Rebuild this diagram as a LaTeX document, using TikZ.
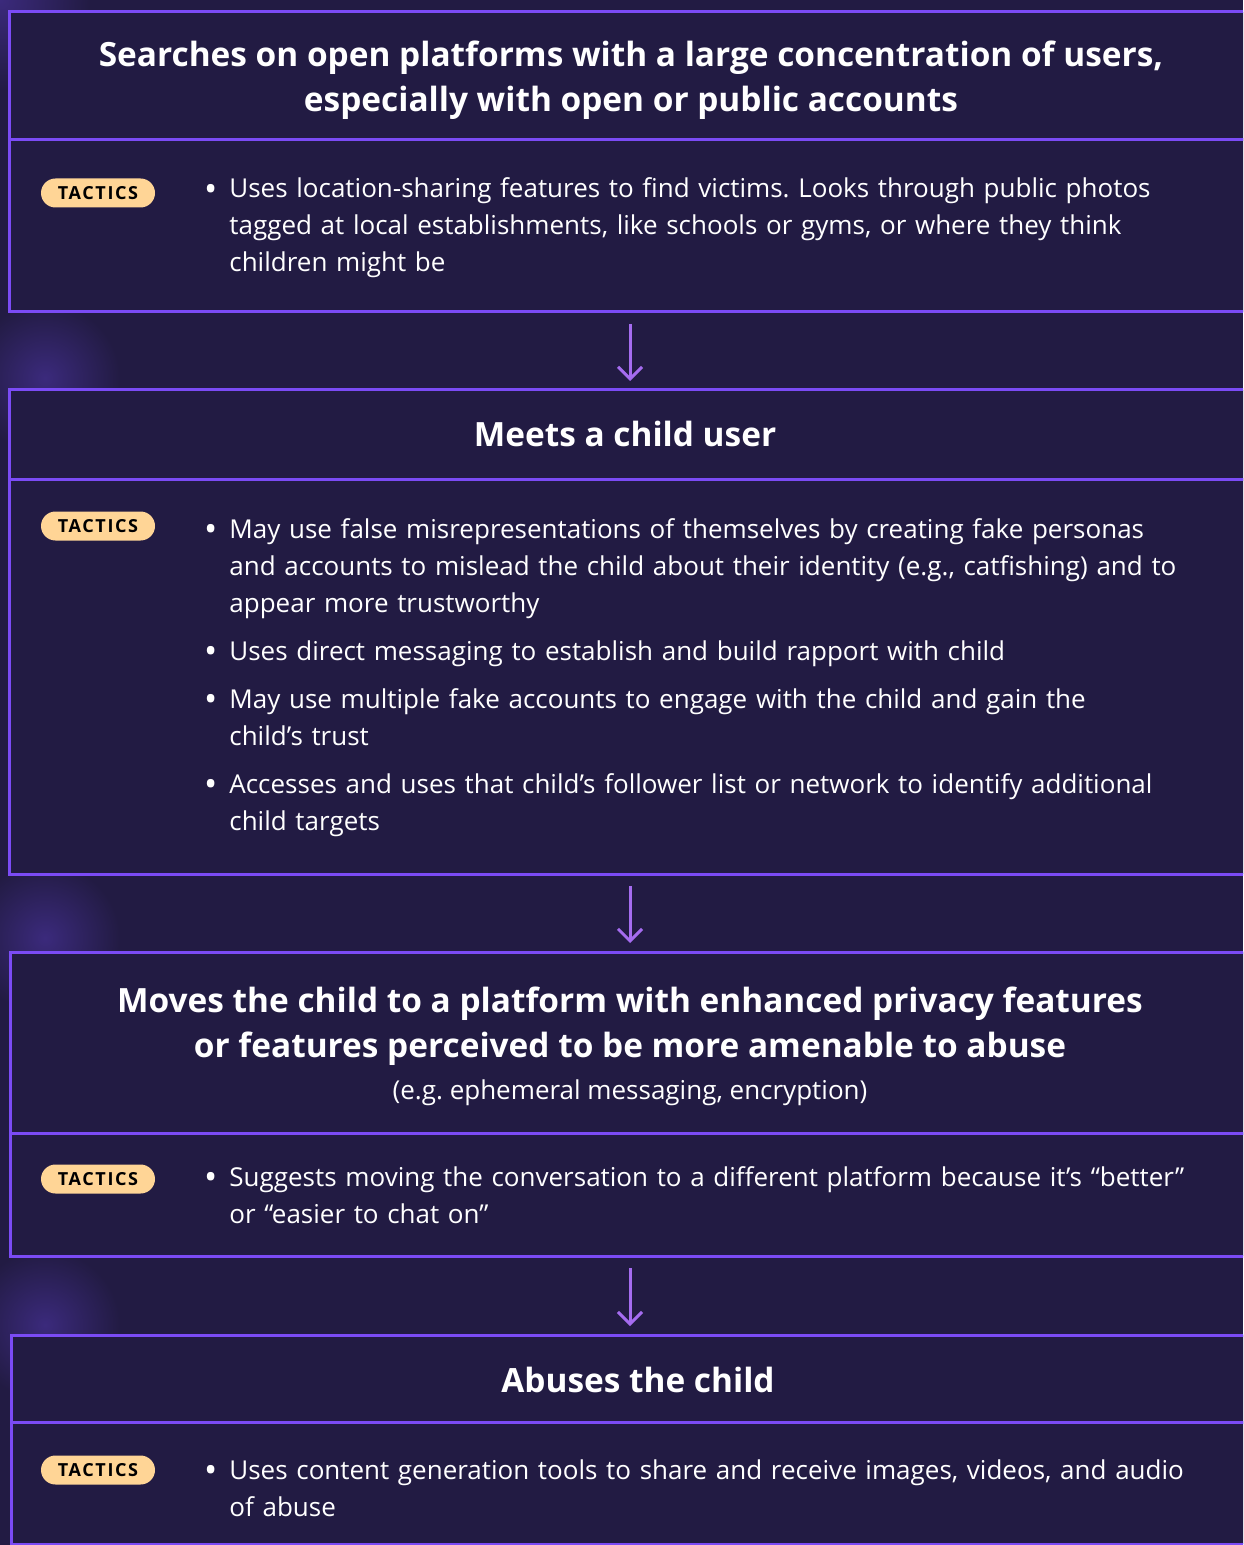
\documentclass[tikz,border=0pt]{standalone}
\usepackage{fontspec}
\setmainfont{Open Sans}
\newfontfamily\pillfont[LetterSpace=9]{Open Sans}
\usepackage{enumitem}
\usetikzlibrary{positioning,arrows.meta}
\definecolor{bgnavy}{HTML}{221B43}
\definecolor{frameviolet}{HTML}{7B4BF5}
\definecolor{arrowviolet}{HTML}{A56CF0}
\definecolor{pillpeach}{HTML}{FFD596}
\definecolor{glowpurple}{HTML}{3B2A7C}
\tikzset{
  stagebox/.style={draw=frameviolet, line width=1.5pt, fill=bgnavy, anchor=north west, inner sep=0pt, outer sep=0pt, minimum width=640pt},
  stagetitle/.style={text=white, font=\fontsize{16.7}{22.5}\selectfont\bfseries, align=center, anchor=base, inner sep=0pt},
  tacticpill/.style={fill=pillpeach, rounded corners=7.25pt, minimum width=57pt, minimum height=14.5pt, inner sep=0pt, text=black, font=\fontsize{9}{9}\selectfont\bfseries\pillfont},
  tacticlist/.style={text=white, text width=560pt, anchor=base west, inner sep=0pt, font=\fontsize{13}{18.5}\selectfont},
  flowarrow/.style={draw=arrowviolet, line width=1.5pt, -{Straight Barb[length=6pt, width=12pt, line width=1.5pt]}, shorten <=6pt, shorten >=4.5pt},
  glow/.style={inner color=glowpurple, outer color=bgnavy}
}
\setlist[itemize]{label=\raisebox{-1.6pt}{\scalebox{1.35}{\textbullet}}, leftmargin=14.5pt, labelsep=6pt, itemsep=5.5pt, topsep=0pt, parsep=0pt, partopsep=0pt}
\frenchspacing
\begin{document}
\begin{tikzpicture}[x=0.5pt, y=-0.5pt]
  % Hintergrund
  \fill[bgnavy] (0,0) rectangle (1243,1545);
  \useasboundingbox (0,0) rectangle (1243,1545);
  \clip (0,0) rectangle (1243,1545);
  % Leuchten am linken Rand
  \shade[glow] (0,0) circle (90);
  \shade[glow] (45,378) circle (75);
  \shade[glow] (45,938) circle (75);
  \shade[glow] (45,1325) circle (75);
  \coordinate (axis) at (630,0);

  % Stufe 1
  \node[stagebox, minimum height=64pt] (head1) at (9,12) {};
  \node[stagebox, minimum height=86pt] (body1) at (head1.south west) {};
  \node[stagetitle] (title1) at (631,112) {Searches on open platforms with a large concentration of users,\\especially with open or public accounts};
  \node[tacticpill] (pill1) at (98,193) {TACTICS};
  \node[tacticlist] (list1) at (200,161) {\begin{itemize}
    \item Uses location-sharing features to find victims. Looks through public photos\\tagged at local establishments, like schools or gyms, or where they think\\children might be
  \end{itemize}};

  % Stufe 2
  \node[stagebox, minimum height=44.5pt] (head2) at (9,390) {};
  \node[stagebox, minimum height=197.5pt] (body2) at (head2.south west) {};
  \node[stagetitle] (title2) at (625,446) {Meets a child user};
  \node[tacticpill] (pill2) at (98,526) {TACTICS};
  \node[tacticlist] (list2) at (200,501) {\begin{itemize}
    \item May use false misrepresentations of themselves by creating fake personas\\and accounts to mislead the child about their identity (e.g., catfishing) and to\\appear more trustworthy
    \item Uses direct messaging to establish and build rapport with child
    \item May use multiple fake accounts to engage with the child and gain the\\child’s trust
    \item Accesses and uses that child’s follower list or network to identify additional\\child targets
  \end{itemize}};

  % Stufe 3
  \node[stagebox, minimum height=90.5pt] (head3) at (10,952) {};
  \node[stagebox, minimum height=61.5pt] (body3) at (head3.south west) {};
  \node[stagetitle] (title3) at (630,1057) {Moves the child to a platform with enhanced privacy features\\or features perceived to be more amenable to abuse};
  \node[text=white, font=\fontsize{13}{18.5}\selectfont, anchor=base, inner sep=0pt] (note3) at (630,1099) {(e.g. ephemeral messaging, encryption)};
  \node[tacticpill] (pill3) at (98,1179) {TACTICS};
  \node[tacticlist] (list3) at (200,1149) {\begin{itemize}
    \item Suggests moving the conversation to a different platform because it’s “better”\\or “easier to chat on”
  \end{itemize}};

  % Stufe 4
  \node[stagebox, minimum height=43.5pt] (head4) at (11,1335) {};
  \node[stagebox, minimum height=61pt] (body4) at (head4.south west) {};
  \node[stagetitle] (title4) at (638,1392) {Abuses the child};
  \node[tacticpill] (pill4) at (98,1470) {TACTICS};
  \node[tacticlist] (list4) at (200,1442) {\begin{itemize}
    \item Uses content generation tools to share and receive images, videos, and audio\\of abuse
  \end{itemize}};

  % Pfeile
  \draw[flowarrow] (body1.south -| axis) -- (head2.north -| axis);
  \draw[flowarrow] (body2.south -| axis) -- (head3.north -| axis);
  \draw[flowarrow] (body3.south -| axis) -- (head4.north -| axis);
\end{tikzpicture}
\end{document}
